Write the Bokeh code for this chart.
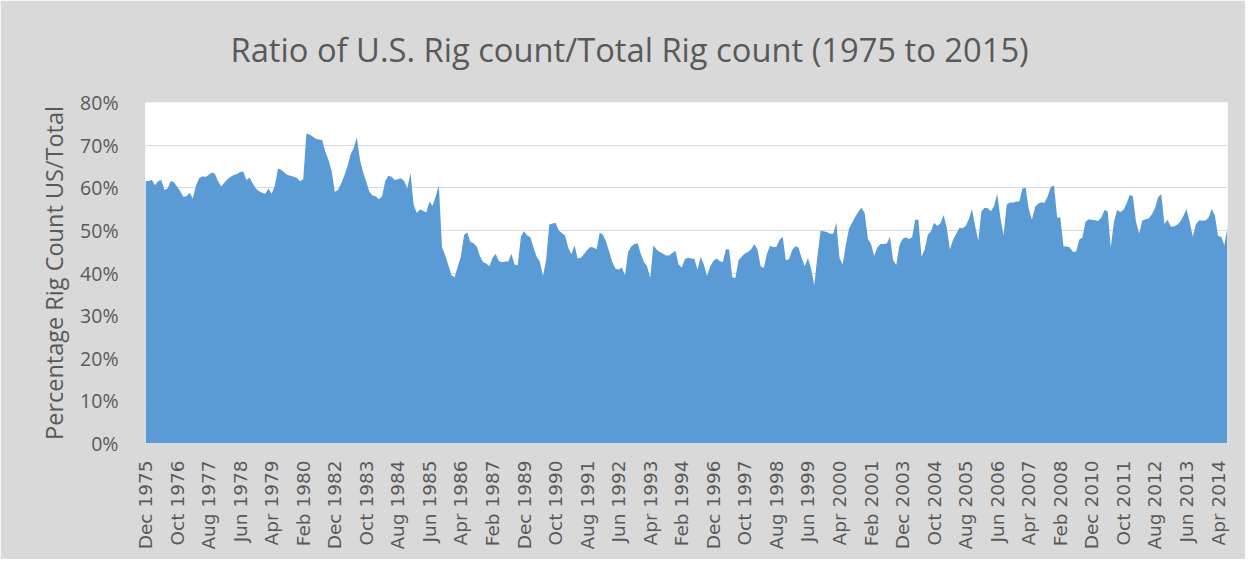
from math import pi
from bokeh.plotting import figure
from bokeh.models import NumeralTickFormatter, FixedTicker, Range1d, Title
from bokeh.embed import file_html
from bokeh.resources import INLINE

TITLE = "Ratio of U.S. Rig count/Total Rig count (1975 to 2015)"
Y_LABEL = "Percentage Rig Count US/Total"

tick_labels = [
    "Dec 1975", "Oct 1976", "Aug 1977", "Jun 1978", "Apr 1979", "Feb 1980",
    "Dec 1982", "Oct 1983", "Aug 1984", "Jun 1985", "Apr 1986", "Feb 1987",
    "Dec 1989", "Oct 1990", "Aug 1991", "Jun 1992", "Apr 1993", "Feb 1994",
    "Dec 1996", "Oct 1997", "Aug 1998", "Jun 1999", "Apr 2000", "Feb 2001",
    "Dec 2003", "Oct 2004", "Aug 2005", "Jun 2006", "Apr 2007", "Feb 2008",
    "Dec 2010", "Oct 2011", "Aug 2012", "Jun 2013", "Apr 2014",
]
LABEL_STEP = 10  # one axis label every 10 categories

# US rig count / total rig count, in percent (one value per category)
ratio_pct = [
    61.6, 61.6, 61.8, 60.6, 61.5, 61.8, 59.5, 59.8, 61.6, 61.3,
    60.3, 59.2, 57.9, 58.0, 58.8, 57.5, 60.5, 62.2, 62.7, 62.5,
    63.0, 63.6, 63.3, 61.5, 60.3, 61.2, 62.0, 62.6, 63.0, 63.2,
    63.7, 63.8, 61.8, 62.4, 61.0, 59.8, 59.2, 58.8, 58.6, 59.8,
    58.6, 60.5, 64.5, 64.2, 63.6, 63.0, 62.8, 62.6, 62.3, 61.5,
    62.0, 72.7, 72.5, 72.0, 71.5, 71.3, 71.2, 68.5, 66.5, 64.0,
    59.0, 59.5, 61.0, 62.8, 65.0, 67.8, 69.3, 71.8, 66.5, 63.6,
    61.4, 59.0, 58.2, 58.0, 57.3, 58.0, 61.6, 62.8, 62.6, 61.8,
    62.0, 62.2, 61.6, 59.8, 63.5, 56.0, 54.1, 54.9, 54.6, 54.2,
    56.7, 55.8, 58.0, 60.5, 46.0, 44.2, 41.8, 39.5, 39.0, 41.5,
    44.0, 49.0, 49.5, 47.3, 47.0, 46.2, 44.0, 42.6, 42.2, 41.6,
    43.5, 44.5, 42.8, 42.5, 42.7, 42.7, 44.5, 42.0, 41.8, 48.5,
    49.8, 48.8, 48.4, 46.0, 43.8, 42.7, 39.3, 43.0, 51.4, 51.6,
    51.8, 50.0, 49.4, 48.8, 46.0, 44.4, 46.5, 43.4, 43.6, 44.4,
    45.4, 46.1, 46.0, 45.6, 49.5, 49.0, 47.4, 45.0, 42.5, 41.0,
    40.8, 41.3, 39.5, 45.0, 46.2, 46.8, 47.0, 44.5, 42.6, 41.6,
    38.8, 46.5, 45.5, 44.9, 44.6, 44.1, 44.1, 44.7, 45.2, 42.0,
    41.3, 43.3, 43.6, 43.4, 43.3, 40.8, 43.8, 42.0, 39.3, 41.5,
    42.8, 43.4, 42.8, 42.5, 45.6, 45.5, 39.0, 38.8, 43.0, 43.8,
    44.6, 44.9, 45.6, 46.8, 45.5, 41.6, 41.2, 44.5, 46.4, 46.1,
    46.1, 47.8, 48.5, 43.0, 43.2, 45.4, 46.3, 46.0, 43.5, 41.6,
    43.5, 41.0, 37.2, 44.0, 49.9, 49.8, 49.6, 49.2, 49.2, 51.8,
    43.5, 42.0, 46.5, 50.4, 51.8, 53.2, 54.4, 55.3, 54.0, 48.0,
    46.8, 44.0, 46.0, 46.8, 46.8, 46.9, 48.5, 43.0, 41.9, 46.5,
    48.0, 48.4, 48.0, 48.3, 52.5, 52.5, 43.8, 45.5, 49.0, 49.8,
    51.8, 51.0, 51.7, 53.6, 50.7, 45.5, 47.8, 49.2, 50.6, 50.5,
    51.0, 52.6, 55.0, 51.0, 47.5, 54.5, 55.3, 55.2, 54.5, 55.7,
    58.6, 53.0, 48.8, 56.0, 56.6, 56.5, 56.8, 56.8, 59.8, 60.0,
    55.0, 52.5, 55.5, 56.3, 56.6, 56.5, 58.0, 60.2, 60.5, 53.0,
    53.0, 46.3, 46.2, 46.0, 45.0, 45.0, 47.8, 48.3, 52.0, 52.6,
    52.5, 52.4, 52.2, 53.0, 54.8, 54.5, 46.0, 52.0, 54.8, 54.3,
    54.8, 56.3, 58.3, 58.0, 52.0, 49.2, 52.3, 52.6, 52.8, 53.7,
    55.2, 57.8, 58.5, 51.5, 52.5, 50.9, 50.9, 51.3, 52.0, 53.4,
    55.0, 52.0, 48.5, 51.5, 52.3, 52.3, 52.3, 53.0, 55.0, 53.5,
    48.7, 48.5, 46.5, 50.6,
]
y_ticks = [0.0, 0.1, 0.2, 0.3, 0.4, 0.5, 0.6, 0.7, 0.8]

xs = list(range(len(ratio_pct)))
ys = [v / 100.0 for v in ratio_pct]

GRAY_TEXT = "#595959"

p = figure(
    width=1245, height=559,
    output_backend="svg", toolbar_location=None,
    x_range=Range1d(0, len(ratio_pct) - 1),
    y_range=Range1d(0, 0.8),
    min_border_left=145, min_border_right=18,
    min_border_top=102, min_border_bottom=116,
)
p.background_fill_color = "white"
p.border_fill_color = "#d9d9d9"
p.outline_line_color = None

p.varea(x=xs, y1=0, y2=ys, fill_color="#5b9bd5", fill_alpha=1.0)

# title
p.title.text = TITLE
p.title.align = "left"
p.title.offset = 85
p.title.text_font = "Open Sans"
p.title.text_font_size = "32.7px"
p.title.text_font_style = "normal"
p.title.text_color = GRAY_TEXT
p.title.standoff = 10
# blank spacer between the title and the plot area
p.add_layout(Title(text=" ", text_font_size="21.5px", standoff=0), "above")

# grid
p.xgrid.grid_line_color = None
p.ygrid.grid_line_color = "#d9d9d9"
p.ygrid.grid_line_width = 1

# axes
for ax in (p.xaxis[0], p.yaxis[0]):
    ax.axis_line_color = None
    ax.major_tick_line_color = None
    ax.minor_tick_line_color = None
    ax.major_label_text_color = GRAY_TEXT

p.xaxis.ticker = FixedTicker(ticks=[i * LABEL_STEP for i in range(len(tick_labels))])
p.xaxis.major_label_overrides = {i * LABEL_STEP: lab for i, lab in enumerate(tick_labels)}
p.xaxis.major_label_orientation = pi / 2
p.xaxis.major_label_text_font = "DejaVu Sans"
p.xaxis.major_label_text_font_size = "18.5px"
p.xaxis.major_label_standoff = 11

p.yaxis.ticker = FixedTicker(ticks=y_ticks)
p.yaxis.formatter = NumeralTickFormatter(format="0%")
p.yaxis.major_label_text_font = "Open Sans"
p.yaxis.major_label_text_font_size = "19.5px"
p.yaxis.major_label_standoff = 21
p.yaxis.axis_label = Y_LABEL
p.yaxis.axis_label_text_font = "Open Sans"
p.yaxis.axis_label_text_font_size = "23.5px"
p.yaxis.axis_label_text_font_style = "normal"
p.yaxis.axis_label_text_color = GRAY_TEXT
p.yaxis.axis_label_standoff = 7

open("out.html", "w").write(file_html(p, INLINE))
